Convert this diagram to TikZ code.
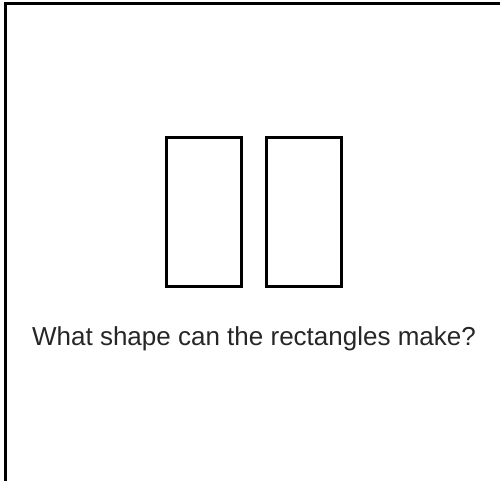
\documentclass[tikz,border=0pt]{standalone}
\usepackage{fontspec}
\setmainfont{Liberation Sans}
\usetikzlibrary{positioning}

\begin{document}
\begin{tikzpicture}[
  x=0.75pt,y=-0.75pt,
  frame/.style={line width=2.25pt,line cap=rect},
  rbox/.style={draw,line width=2.25pt,minimum width=56.25pt,minimum height=111.75pt,inner sep=0pt},
  qtext/.style={font=\fontsize{19.5}{23}\selectfont,text=black!85,inner sep=0pt},
]
  \useasboundingbox (0,0) rectangle (500,481);
  % open frame: top and left edges only
  \draw[frame] (500,4) -- (5,4) -- (5,481);

  % the two rectangles
  \node[rbox] (R1) at (204,212) {};
  \node[rbox,right=16.5pt of R1] (R2) {};

  % question
  \node[qtext,anchor=base] (Q) at (254,345) {What shape can the rectangles make?};
\end{tikzpicture}
\end{document}
